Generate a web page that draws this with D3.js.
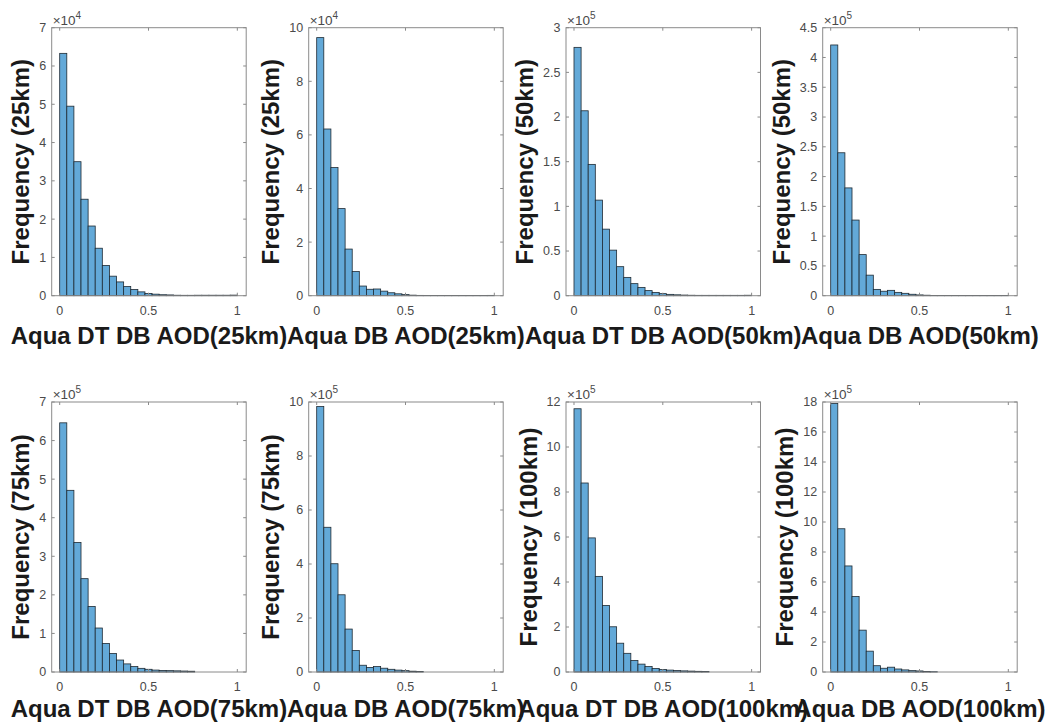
<!DOCTYPE html>
<html>
<head>
<meta charset="utf-8">
<script src="https://cdn.jsdelivr.net/npm/d3@7"></script>
<style>
  body { margin: 0; background: #fff; }
  text { font-family: "Liberation Sans", Arial, sans-serif; }
</style>
</head>
<body>
<svg id="chart" width="1049" height="725"></svg>
<script>
// AOD histogram bins: 25 bins of width 0.04 from 0 to 1
const binEdges = d3.range(26).map(i => +(i * 0.04).toFixed(2));

// Bin counts for each panel (in units of 10^exponent)
const dtdb25 = [6.33, 4.95, 3.50, 2.52, 1.82, 1.24, 0.79, 0.51, 0.36, 0.24, 0.16, 0.10, 0.06, 0.04, 0.025, 0.02, 0.012, 0.01, 0.01, 0.012, 0.012, 0.012, 0.012, 0.012, 0.015];
const db25   = [9.63, 6.22, 4.78, 3.25, 1.74, 0.90, 0.36, 0.24, 0.25, 0.17, 0.11, 0.07, 0.04, 0.02, 0.012, 0.01, 0.008, 0.008, 0.008, 0.01, 0.01, 0.01, 0.01, 0.01, 0.012];
const dtdb50 = [2.78, 2.07, 1.47, 1.07, 0.745, 0.51, 0.325, 0.205, 0.135, 0.093, 0.057, 0.037, 0.023, 0.015, 0.01, 0.007, 0.005, 0.004, 0.004, 0.004, 0.004, 0.004, 0.004, 0.004, 0.005];
const db50   = [4.21, 2.40, 1.81, 1.27, 0.69, 0.345, 0.106, 0.075, 0.09, 0.056, 0.04, 0.024, 0.013, 0.008, 0.005, 0.004, 0.003, 0.003, 0.003, 0.003, 0.003, 0.003, 0.003, 0.003, 0.004];
const dtdb75 = [6.46, 4.71, 3.36, 2.42, 1.70, 1.14, 0.74, 0.48, 0.31, 0.21, 0.14, 0.095, 0.07, 0.05, 0.04, 0.035, 0.03, 0.025, 0.02, 0, 0, 0, 0, 0, 0];
const db75   = [9.83, 5.36, 4.01, 2.86, 1.59, 0.80, 0.25, 0.17, 0.20, 0.14, 0.10, 0.07, 0.05, 0.03, 0.02, 0, 0, 0, 0, 0, 0, 0, 0, 0, 0];
const dtdb100 = [11.7, 8.40, 5.96, 4.25, 2.96, 2.01, 1.28, 0.83, 0.51, 0.35, 0.24, 0.16, 0.11, 0.085, 0.065, 0.05, 0.04, 0.03, 0.025, 0, 0, 0, 0, 0, 0];
const db100  = [17.9, 9.55, 7.07, 5.03, 2.79, 1.39, 0.42, 0.25, 0.32, 0.20, 0.14, 0.09, 0.07, 0.04, 0.02, 0, 0, 0, 0, 0, 0, 0, 0, 0, 0];

const seriesCounts = [dtdb25, db25, dtdb50, db50, dtdb75, db75, dtdb100, db100];

const xLabels = ["Aqua DT DB AOD(25km)", "Aqua DB AOD(25km)", "Aqua DT DB AOD(50km)", "Aqua DB AOD(50km)",
                 "Aqua DT DB AOD(75km)", "Aqua DB AOD(75km)", "Aqua DT DB AOD(100km)", "Aqua DB AOD(100km)"];
const yLabels = ["Frequency (25km)", "Frequency (25km)", "Frequency (50km)", "Frequency (50km)",
                 "Frequency (75km)", "Frequency (75km)", "Frequency (100km)", "Frequency (100km)"];
const exponents = [4, 4, 5, 5, 5, 5, 5, 5];
const yMax  = [7, 10, 3, 4.5, 7, 10, 12, 18];
const yStep = [1, 2, 0.5, 0.5, 1, 2, 2, 2];
const xTicks = [0, 0.5, 1];

// Panel geometry
const colLeft = [51.7, 308.7, 566, 822.7];
const axW = 194.5;
const rowTop = [27.7, 402];
const rowBottom = [295.7, 672];
const xLabelBaseline = [343.5, 717];

const svg = d3.select("#chart");
const boxColor = "#8a8a8a";
const tickColor = "#4a4a4a";
const labelColor = "#1a1a1a";
const barFill = "rgb(99,169,216)";
const barStroke = "#1e2a33";

seriesCounts.forEach((counts, p) => {
  const col = p % 4, row = Math.floor(p / 4);
  const left = colLeft[col], right = left + axW;
  const top = rowTop[row], bottom = rowBottom[row];

  const x = d3.scaleLinear().domain([-0.045, 1.05]).range([left, right]);
  const y = d3.scaleLinear().domain([0, yMax[p]]).range([bottom, top]);
  const yTicks = d3.range(0, yMax[p] + 1e-9, yStep[p]).map(v => +v.toFixed(2));

  const g = svg.append("g");

  // bars
  const bins = counts.map((c, i) => ({ x0: binEdges[i], x1: binEdges[i + 1], c }))
                     .filter(d => d.c > 0);
  g.selectAll("rect.bar").data(bins).join("rect")
    .attr("class", "bar")
    .attr("x", d => x(d.x0))
    .attr("width", d => x(d.x1) - x(d.x0))
    .attr("y", d => y(d.c))
    .attr("height", d => y(0) - y(d.c))
    .attr("fill", barFill)
    .attr("stroke", barStroke)
    .attr("stroke-width", 0.8);

  // axes box
  g.append("rect")
    .attr("x", left).attr("y", top)
    .attr("width", axW).attr("height", bottom - top)
    .attr("fill", "none").attr("stroke", boxColor).attr("stroke-width", 1);

  const tl = 3;
  // x ticks (bottom and top, inward)
  xTicks.forEach(v => {
    g.append("line").attr("x1", x(v)).attr("x2", x(v)).attr("y1", bottom).attr("y2", bottom - tl)
      .attr("stroke", boxColor);
    g.append("line").attr("x1", x(v)).attr("x2", x(v)).attr("y1", top).attr("y2", top + tl)
      .attr("stroke", boxColor);
  });
  // y ticks (left and right, inward)
  yTicks.forEach(v => {
    g.append("line").attr("x1", left).attr("x2", left + tl).attr("y1", y(v)).attr("y2", y(v))
      .attr("stroke", boxColor);
    g.append("line").attr("x1", right).attr("x2", right - tl).attr("y1", y(v)).attr("y2", y(v))
      .attr("stroke", boxColor);
  });

  // tick labels
  g.selectAll("text.xt").data(xTicks).join("text")
    .attr("class", "xt")
    .attr("x", d => x(d)).attr("y", bottom + 19)
    .attr("text-anchor", "middle")
    .attr("font-size", 12.5).attr("fill", tickColor)
    .text(d => String(d));

  const ytl = g.selectAll("text.yt").data(yTicks).join("text")
    .attr("class", "yt")
    .attr("x", left - 5.5).attr("y", d => y(d) + 4.4)
    .attr("text-anchor", "end")
    .attr("font-size", 12.5).attr("fill", tickColor)
    .text(d => String(d));

  let maxW = 0;
  ytl.each(function () { maxW = Math.max(maxW, this.getComputedTextLength()); });

  // exponent multiplier
  const ex = g.append("text")
    .attr("x", left + 1).attr("y", top - 3)
    .attr("font-size", 13.5).attr("fill", tickColor);
  ex.append("tspan").text("\u00d710");
  ex.append("tspan").attr("font-size", 10).attr("dy", -6).text(String(exponents[p]));

  // y label
  const fs = 24;
  const yLabX = left - 5.5 - maxW - 5 - 0.21 * fs;
  g.append("text")
    .attr("transform", `translate(${yLabX},${(top + bottom) / 2}) rotate(-90)`)
    .attr("text-anchor", "middle")
    .attr("font-size", fs).attr("font-weight", "bold").attr("fill", labelColor)
    .text(yLabels[p]);

  // x label
  g.append("text")
    .attr("x", (left + right) / 2).attr("y", xLabelBaseline[row])
    .attr("text-anchor", "middle")
    .attr("font-size", fs).attr("font-weight", "bold").attr("fill", labelColor)
    .text(xLabels[p]);
});
</script>
</body>
</html>
